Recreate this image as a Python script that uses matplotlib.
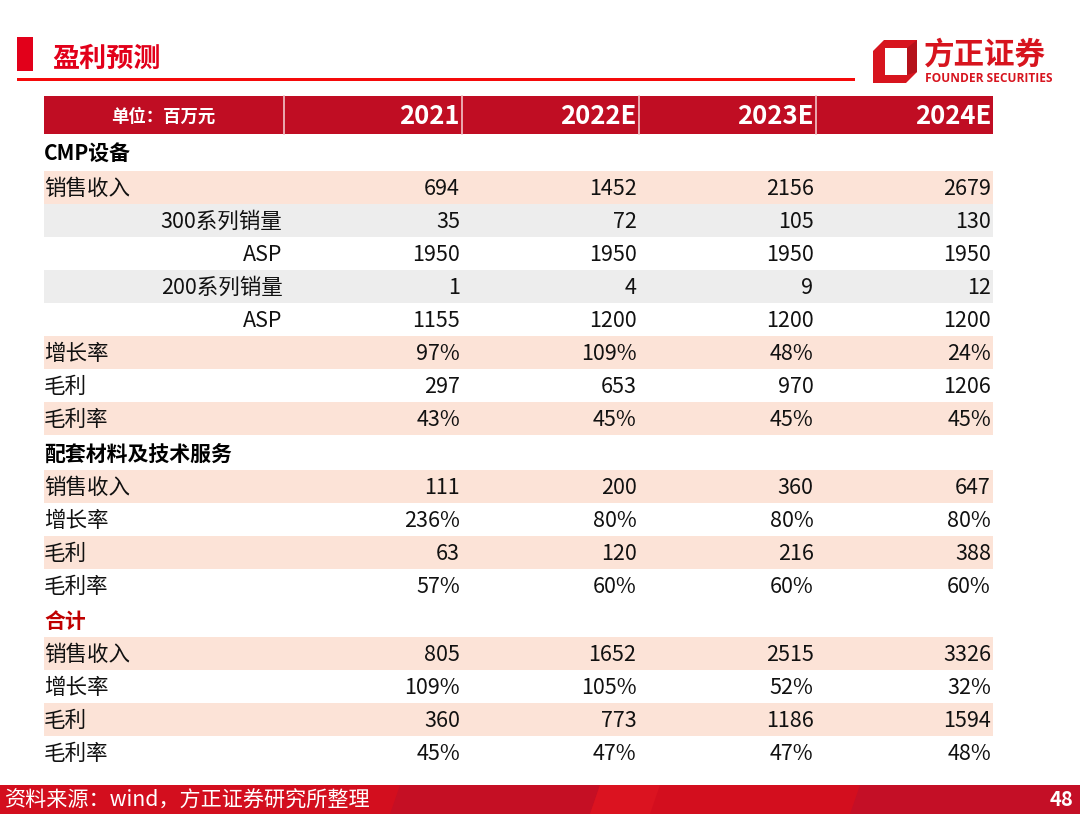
import matplotlib
matplotlib.use("Agg")
import matplotlib.pyplot as plt
from matplotlib.patches import Rectangle, Polygon

plt.rcParams['font.family'] = ['Noto Sans CJK SC', 'DejaVu Sans']

# data
title = "盈利预测"
unit_label = "单位：百万元"
years = ["2021", "2022E", "2023E", "2024E"]
row_labels = ["CMP设备", "销售收入", "300系列销量", "ASP", "200系列销量", "ASP",
              "增长率", "毛利", "毛利率",
              "配套材料及技术服务", "销售收入", "增长率", "毛利", "毛利率",
              "合计", "销售收入", "增长率", "毛利", "毛利率"]
v2021 = ["", "694", "35", "1950", "1", "1155", "97%", "297", "43%",
         "", "111", "236%", "63", "57%",
         "", "805", "109%", "360", "45%"]
v2022 = ["", "1452", "72", "1950", "4", "1200", "109%", "653", "45%",
         "", "200", "80%", "120", "60%",
         "", "1652", "105%", "773", "47%"]
v2023 = ["", "2156", "105", "1950", "9", "1200", "48%", "970", "45%",
         "", "360", "80%", "216", "60%",
         "", "2515", "52%", "1186", "47%"]
v2024 = ["", "2679", "130", "1950", "12", "1200", "24%", "1206", "45%",
         "", "647", "80%", "388", "60%",
         "", "3326", "32%", "1594", "48%"]
# row kind: sec = section heading, sub = indented item, row = normal item
row_kind = ["sec", "row", "sub", "sub", "sub", "sub", "row", "row", "row",
            "sec", "row", "row", "row", "row",
            "sec", "row", "row", "row", "row"]
row_fill = ["w", "p", "g", "w", "g", "w", "p", "w", "p",
            "w", "p", "w", "p", "w",
            "w", "p", "w", "p", "w"]
source = "资料来源：wind，方正证券研究所整理"
page_no = "48"

RED = "#C00D23"
fills = {"w": "white", "p": "#FCE3D7", "g": "#EDEDED"}
col_edges = [44, 283.5, 462, 638.5, 815.5, 993]

fig = plt.figure(figsize=(10.8, 8.14), dpi=100)
ax = fig.add_axes([0, 0, 1, 1])
ax.set_xlim(0, 1080)
ax.set_ylim(814, 0)
ax.axis("off")

# title
ax.add_patch(Rectangle((17, 37), 16, 34, color="#E2001A", lw=0))
ax.text(52, 59, title, color="#E2001A", fontsize=19.5, fontweight="bold", va="center", ha="left")
ax.add_patch(Rectangle((17, 77.5), 838, 3, color="#F50A0A", lw=0))

# logo
ax.add_patch(Polygon([(884, 40), (917, 40), (917, 72), (906, 83), (873, 83), (873, 51)],
                     closed=True, color="#D7141E", lw=0))
ax.add_patch(Polygon([(885, 48), (907, 48), (907, 75), (885, 75)], closed=True, color="white", lw=0))
ax.add_patch(Polygon([(907, 48), (917, 40), (917, 72), (907, 75)], closed=True, color="#B5121B", lw=0))
ax.text(924, 55, "方正证券", color="#D7141E", fontsize=22, fontweight="bold", va="center", ha="left")
ax.text(925, 79, "FOUNDER SECURITIES", color="#D7141E", fontsize=8.6, fontweight="bold",
        va="center", ha="left", family=["Open Sans", "DejaVu Sans"])

# header
ax.add_patch(Rectangle((col_edges[0], 96), col_edges[-1] - col_edges[0], 38, color=RED, lw=0))
for xe in col_edges[1:-1]:
    ax.plot([xe, xe], [96, 134], color="#F2C4C8", lw=1.2)
ax.text((col_edges[0] + col_edges[1]) / 2, 117, unit_label, color="white", fontsize=12.5,
        fontweight="bold", ha="center", va="center")
for i, yr in enumerate(years):
    ax.text(col_edges[i + 2] - 2, 117, yr, color="white", fontsize=18.5, fontweight="bold",
            ha="right", va="center")

# body
values = [v2021, v2022, v2023, v2024]
y = 134
for r, lab in enumerate(row_labels):
    kind = row_kind[r]
    h = 33
    if kind == "sec":
        h = 37 if r == 0 else 35
    ax.add_patch(Rectangle((col_edges[0], y), col_edges[-1] - col_edges[0], h,
                           color=fills[row_fill[r]], lw=0))
    yc = y + h / 2 + 1.5
    if kind == "sec":
        color = "#C00000" if lab == "合计" else "black"
        ax.text(col_edges[0], yc, lab, fontsize=15, fontweight="bold", color=color,
                ha="left", va="center")
    elif kind == "sub":
        ax.text(col_edges[1] - 1, yc, lab, fontsize=15.5, color="#111111", ha="right", va="center")
    else:
        ax.text(col_edges[0], yc, lab, fontsize=15.5, color="#111111", ha="left", va="center")
    for c in range(4):
        txt = values[c][r]
        if txt:
            ax.text(col_edges[c + 2] - 2, yc, txt, fontsize=15.5, color="#111111",
                    ha="right", va="center")
    y += h

# footer band
ax.add_patch(Rectangle((0, 785), 1080, 29, color="#D30E1E", lw=0))
ax.add_patch(Polygon([(400, 785), (600, 785), (590, 814), (390, 814)], closed=True, color="#C50F24", lw=0))
ax.add_patch(Polygon([(860, 785), (1110, 785), (1100, 814), (850, 814)], closed=True, color="#C40F26", lw=0))
ax.add_patch(Polygon([(600, 785), (660, 785), (650, 814), (590, 814)], closed=True, color="#DB1320", lw=0))
ax.text(5, 801, source, color="white", fontsize=15.2, ha="left", va="center")
ax.text(1073, 799, page_no, color="white", fontsize=14.5, fontweight="bold", ha="right", va="center")

fig.savefig("out.png", dpi=100)
